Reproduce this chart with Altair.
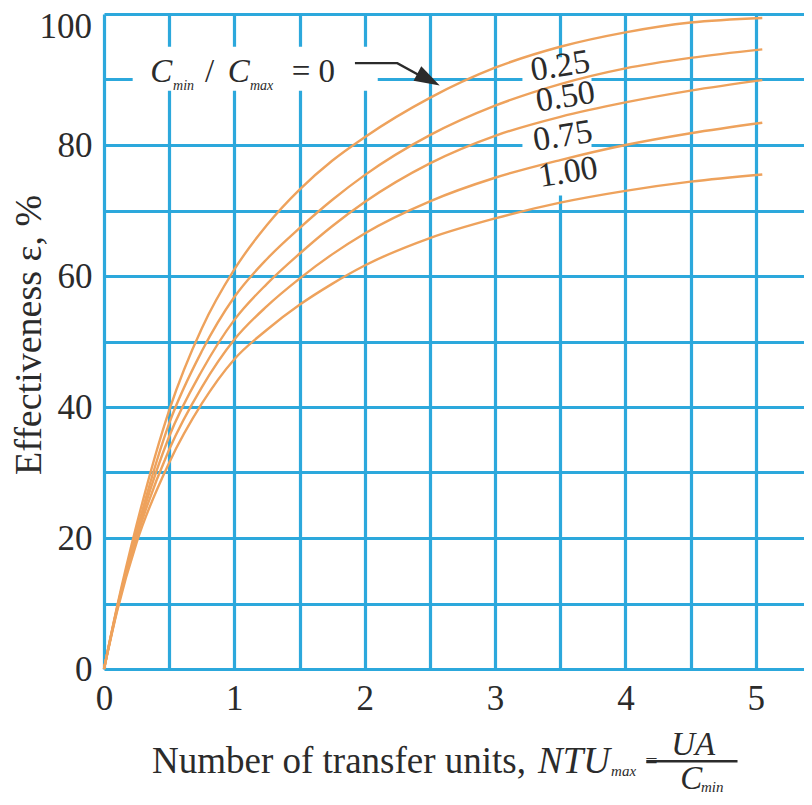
import altair as alt
import pandas as pd

# ---------------- data ----------------
ntu = [0, 0.1, 0.25, 0.5, 0.75, 1, 1.25, 1.5, 1.75, 2, 2.5, 3, 3.5, 4, 4.5, 5.05]
eff_r000 = [0, 9.5, 22.0, 39.5, 52.0, 61.0, 67.8, 73.2, 77.6, 81.2, 87.2, 91.8, 95.0, 97.2, 98.7, 99.4]
eff_r025 = [0, 9.3, 21.0, 37.5, 48.5, 56.8, 62.6, 67.3, 71.6, 75.4, 81.5, 86.0, 89.3, 91.7, 93.3, 94.6]
eff_r050 = [0, 9.2, 20.5, 35.5, 45.5, 53.3, 58.8, 63.4, 67.6, 71.3, 77.2, 81.4, 84.3, 86.5, 88.3, 89.9]
eff_r075 = [0, 9.0, 20.0, 33.5, 43.0, 50.3, 55.4, 59.6, 63.3, 66.5, 71.4, 75.0, 77.7, 80.0, 81.8, 83.4]
eff_r100 = [0, 8.8, 19.3, 31.5, 40.5, 47.3, 51.8, 55.6, 58.8, 61.6, 65.8, 68.8, 71.2, 73.0, 74.4, 75.5]
ratios = ["0", "0.25", "0.50", "0.75", "1.00"]

x_ticks = [0, 0.5, 1, 1.5, 2, 2.5, 3, 3.5, 4, 4.5, 5]
y_ticks = [0, 10, 20, 30, 40, 50, 60, 70, 80, 90, 100]

curve_labels = ["0.25", "0.50", "0.75", "1.00"]
curve_label_x = [3.50, 3.54, 3.52, 3.56]
curve_label_y = [92.0, 87.3, 81.3, 75.8]

# ---------------- styling ----------------
FONT = "Liberation Serif"
GRID = "#2ca8dc"
CURVE = "#eea25c"
INK = "#2b2b2b"
X_DOMAIN = [0, 5.37]

rows = []
for r, vals in zip(ratios, [eff_r000, eff_r025, eff_r050, eff_r075, eff_r100]):
    for x, y in zip(ntu, vals):
        rows.append({"ntu": x, "eff": y, "ratio": r})
curves_df = pd.DataFrame(rows)

xs = alt.Scale(domain=X_DOMAIN, nice=False, zero=False)
ys = alt.Scale(domain=[0, 100], nice=False, zero=False)

x_axis = alt.Axis(values=x_ticks, domain=False, ticks=False, grid=True,
                  gridColor=GRID, gridWidth=3.2, gridOpacity=1,
                  labelExpr="datum.value % 1 === 0 ? format(datum.value, 'd') : ''",
                  labelFont=FONT, labelFontSize=35, labelColor=INK,
                  labelPadding=12, labelFlush=False, labelOverlap=False, title=None)
y_axis = alt.Axis(values=y_ticks, domain=False, ticks=False, grid=True,
                  gridColor=GRID, gridWidth=3.2, gridOpacity=1,
                  labelExpr="datum.value % 20 === 0 && datum.value < 100 ? format(datum.value, 'd') : ''",
                  labelFont=FONT, labelFontSize=35, labelColor=INK,
                  labelPadding=12, labelFlush=False, labelOverlap=False, title=None)

base = alt.Chart(curves_df)

# white boxes behind the labels (they interrupt the grid)
boxes_df = pd.DataFrame({
    "x": [0.22, 3.21], "x2": [2.10, 3.74],
    "y": [88.3, 72.3], "y2": [95.0, 93.4],
})
boxes = alt.Chart(boxes_df).mark_rect(color="white").encode(
    x=alt.X("x:Q", scale=xs, axis=x_axis), x2="x2",
    y=alt.Y("y:Q", scale=ys, axis=y_axis), y2="y2",
)

curves = base.mark_line(color=CURVE, strokeWidth=2.4, interpolate="monotone").encode(
    x=alt.X("ntu:Q", scale=xs),
    y=alt.Y("eff:Q", scale=ys),
    detail="ratio:N",
)

lab_df = pd.DataFrame({"t": curve_labels, "x": curve_label_x, "y": curve_label_y})
labels = alt.Chart(lab_df).mark_text(font=FONT, fontSize=34, color=INK, angle=351,
                                      baseline="middle", align="center").encode(
    x=alt.X("x:Q", scale=xs), y=alt.Y("y:Q", scale=ys), text="t:N")


def txt(df, size, italic=False, align="left", baseline="alphabetic", angle=0):
    return alt.Chart(pd.DataFrame(df)).mark_text(
        font=FONT, fontSize=size, color=INK, align=align, baseline=baseline,
        fontStyle="italic" if italic else "normal", angle=angle,
    ).encode(x=alt.X("x:Q", scale=xs), y=alt.Y("y:Q", scale=ys), text="t:N")


# top tick label "100" sits a little below its grid line in the reference
top_label = txt({"t": ["100"], "x": [-0.092], "y": [98.0]}, 35, align="right", baseline="middle")

# --- "Cmin / Cmax = 0" annotation ---
big_c = txt({"t": ["C", "C"], "x": [0.355, 0.95], "y": [89.6, 89.6]}, 33, italic=True)
subs_c = txt({"t": ["min", "max"], "x": [0.53, 1.12], "y": [88.4, 88.4]}, 14, italic=True)
slash = txt({"t": ["/", "= 0"], "x": [0.775, 1.44], "y": [89.6, 89.6]}, 33)

arrow_df = pd.DataFrame({"x": [1.925, 2.25, 2.45], "y": [92.5, 92.5, 90.3], "o": [0, 1, 2]})
arrow = alt.Chart(arrow_df).mark_line(color=INK, strokeWidth=2.4).encode(
    x=alt.X("x:Q", scale=xs), y=alt.Y("y:Q", scale=ys), order="o:Q")
head = alt.Chart(pd.DataFrame({"x": [2.49], "y": [90.0]})).mark_point(
    shape="M -1 -0.65 L 1 0 L -1 0.65 Z", filled=True, color=INK, opacity=1,
    size=640, angle=28, strokeWidth=0).encode(
    x=alt.X("x:Q", scale=xs), y=alt.Y("y:Q", scale=ys))

# --- x-axis title ---
xt_main = txt({"t": ["Number of transfer units,"], "x": [0.368], "y": [-15.9]}, 37)
xt_ntu = txt({"t": ["NTU"], "x": [3.33], "y": [-15.9]}, 37, italic=True)
xt_max = txt({"t": ["max"], "x": [3.89], "y": [-16.4]}, 15, italic=True)
xt_eq = txt({"t": ["="], "x": [4.2], "y": [-14.0]}, 22, align="center", baseline="middle")
xt_ua = txt({"t": ["UA"], "x": [4.52], "y": [-13.1]}, 33, italic=True, align="center")
xt_c = txt({"t": ["C"], "x": [4.42], "y": [-18.3]}, 33, italic=True)
xt_min = txt({"t": ["min"], "x": [4.58], "y": [-18.8]}, 15, italic=True)
frac = alt.Chart(pd.DataFrame({"x": [4.16], "x2": [4.86], "y": [-14.1]})).mark_rule(
    color=INK, strokeWidth=2.5).encode(
    x=alt.X("x:Q", scale=xs), x2="x2", y=alt.Y("y:Q", scale=ys))

# --- y-axis title ---
yt = txt({"t": ["Effectiveness ε, %"], "x": [-0.57], "y": [51.0]}, 38,
         align="center", baseline="middle", angle=270)

chart = alt.layer(
    boxes, curves, labels, top_label, big_c, subs_c, slash, arrow, head,
    xt_main, xt_ntu, xt_max, xt_eq, xt_ua, xt_c, xt_min, frac, yt,
).properties(
    width=700, height=655, autosize="none",
    padding={"left": 96, "top": 6, "right": 0, "bottom": 128},
    background="white",
).configure_view(stroke=None)

chart.save("out.html", embed_options={"renderer": "svg", "actions": False})
